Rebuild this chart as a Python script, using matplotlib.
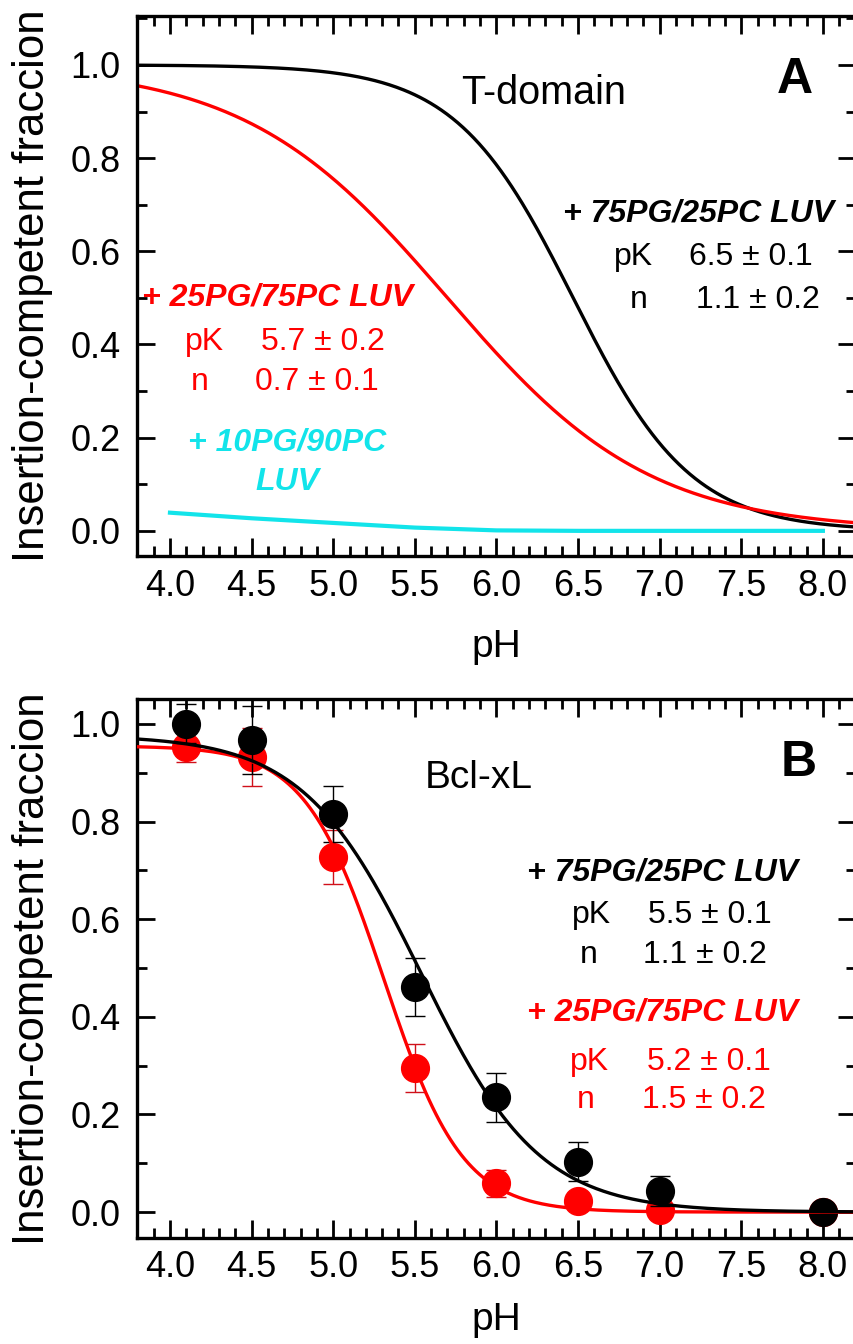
import numpy as np
import matplotlib
matplotlib.use("Agg")
import matplotlib.pyplot as plt
from matplotlib.ticker import MultipleLocator

plt.rcParams["font.family"] = ["Liberation Sans", "DejaVu Sans"]

# --- Panel A: T-domain, Hill fits as drawn (pK, n) ---
fit_a_pk = [6.47, 5.7]
fit_a_n = [1.2, 0.7]
fit_a_colors = ["black", "red"]

# 10PG/90PC curve
cyan_ph = [4.0, 4.5, 5.0, 5.5, 6.0, 6.5, 7.0, 7.5, 8.0]
cyan_y = [0.039, 0.027, 0.017, 0.007, 0.001, 0.0, 0.0, 0.0, 0.0]

# --- Panel B: Bcl-xL data points ---
ph_b75 = [4.1, 4.5, 5.0, 5.5, 6.0, 6.5, 7.0, 8.0]
y_b75 = [1.00, 0.967, 0.816, 0.461, 0.235, 0.103, 0.043, 0.0]
e_b75 = [0.04, 0.07, 0.057, 0.06, 0.05, 0.04, 0.03, 0.0]

ph_b25 = [4.1, 4.5, 5.0, 5.5, 6.0, 6.5, 7.0, 8.0]
y_b25 = [0.953, 0.932, 0.727, 0.295, 0.059, 0.023, 0.004, 0.0]
e_b25 = [0.032, 0.06, 0.055, 0.05, 0.028, 0.01, 0.005, 0.0]

# fitted curves as drawn (top plateau, pK, n)
fit_b_top = [0.977, 0.955]
fit_b_pk = [5.54, 5.31]
fit_b_n = [1.2, 1.8]

RED = "#ff0000"
CYAN = "#12e4ea"


def hill(ph, pk, n, top=1.0):
    return top / (1.0 + 10 ** (n * (ph - pk)))


def style_axes(ax, ylim):
    ax.set_xlim(3.8, 8.2)
    ax.set_ylim(*ylim)
    ax.xaxis.set_minor_locator(MultipleLocator(0.1))
    ax.yaxis.set_minor_locator(MultipleLocator(0.1))
    xt = np.arange(4.0, 8.01, 0.5)
    yt = np.arange(0.0, 1.01, 0.2)
    ax.set_xticks(xt)
    ax.set_xticklabels([f"{v:.1f}" for v in xt])
    ax.set_yticks(yt)
    ax.set_yticklabels([f"{v:.1f}" for v in yt])
    ax.tick_params(which="both", direction="in", top=True, right=True,
                   width=2.0, labelsize=26)
    ax.tick_params(which="major", length=13)
    ax.tick_params(which="minor", length=7)
    ax.tick_params(axis="x", pad=9)
    ax.tick_params(axis="y", pad=12)
    for s in ax.spines.values():
        s.set_linewidth(2.4)
    ax.set_xlabel("pH", fontsize=28)
    ax.set_ylabel("Insertion-competent fraccion", fontsize=31.5)


fig = plt.figure(figsize=(8.54, 13.44), dpi=100)
ax1 = fig.add_axes([0.1608, 0.5863, 0.8410, 0.4018])
ax2 = fig.add_axes([0.1608, 0.0789, 0.8410, 0.4010])

# ---- Panel A ----
ph = np.linspace(3.8, 8.2, 400)
for pk, n, c in zip(fit_a_pk, fit_a_n, fit_a_colors):
    ax1.plot(ph, hill(ph, pk, n), color=c, lw=2.4)
ax1.plot(cyan_ph, cyan_y, color=CYAN, lw=3.0)
style_axes(ax1, (-0.054, 1.105))
ax1.xaxis.set_label_coords(0.5, -0.135)
ax1.yaxis.set_label_coords(-0.118, 0.5)

bi = dict(fontweight="bold", fontstyle="italic", fontsize=23)
ax1.text(6.29, 0.94, "T-domain", fontsize=28.5, ha="center", va="center")
ax1.text(7.83, 0.968, "A", fontsize=36, fontweight="bold", ha="center", va="center")
ax1.text(8.07, 0.682, "+ 75PG/25PC LUV", ha="right", va="center", color="black", **bi)
ax1.text(6.72, 0.588, "pK", fontsize=23, ha="left", va="center")
ax1.text(7.18, 0.588, "6.5 \u00b1 0.1", fontsize=23, ha="left", va="center")
ax1.text(6.82, 0.496, "n", fontsize=23, ha="left", va="center")
ax1.text(7.22, 0.496, "1.1 \u00b1 0.2", fontsize=23, ha="left", va="center")

ax1.text(3.83, 0.50, "+ 25PG/75PC LUV", ha="left", va="center", color=RED, **bi)
ax1.text(4.09, 0.406, "pK", fontsize=23, ha="left", va="center", color=RED)
ax1.text(4.56, 0.406, "5.7 \u00b1 0.2", fontsize=23, ha="left", va="center", color=RED)
ax1.text(4.13, 0.32, "n", fontsize=23, ha="left", va="center", color=RED)
ax1.text(4.52, 0.32, "0.7 \u00b1 0.1", fontsize=23, ha="left", va="center", color=RED)

ax1.text(4.72, 0.189, "+ 10PG/90PC", ha="center", va="center", color=CYAN, **bi)
ax1.text(4.72, 0.105, "LUV", ha="center", va="center", color=CYAN, **bi)

# ---- Panel B ----
ax2.errorbar(ph_b25, y_b25, yerr=e_b25, fmt="o", color=RED, ms=20,
             ecolor="#d0101a", elinewidth=1.0, capsize=7, capthick=1.0, zorder=3)
ax2.errorbar(ph_b75, y_b75, yerr=e_b75, fmt="o", color="black", ms=20,
             ecolor="black", elinewidth=1.0, capsize=7, capthick=1.0, zorder=4)
ax2.plot(ph, hill(ph, fit_b_pk[1], fit_b_n[1], fit_b_top[1]), color=RED, lw=2.4, zorder=5)
ax2.plot(ph, hill(ph, fit_b_pk[0], fit_b_n[0], fit_b_top[0]), color="black", lw=2.4, zorder=5)
style_axes(ax2, (-0.053, 1.051))
ax2.xaxis.set_label_coords(0.5, -0.118)
ax2.yaxis.set_label_coords(-0.118, 0.5)

ax2.text(5.56, 0.889, "Bcl-xL", fontsize=28, ha="left", va="center")
ax2.text(7.85, 0.92, "B", fontsize=36, fontweight="bold", ha="center", va="center")
ax2.text(6.19, 0.695, "+ 75PG/25PC LUV", ha="left", va="center", color="black", **bi)
ax2.text(6.46, 0.609, "pK", fontsize=23, ha="left", va="center")
ax2.text(6.93, 0.609, "5.5 \u00b1 0.1", fontsize=23, ha="left", va="center")
ax2.text(6.51, 0.527, "n", fontsize=23, ha="left", va="center")
ax2.text(6.90, 0.527, "1.1 \u00b1 0.2", fontsize=23, ha="left", va="center")
ax2.text(6.19, 0.408, "+ 25PG/75PC LUV", ha="left", va="center", color=RED, **bi)
ax2.text(6.45, 0.307, "pK", fontsize=23, ha="left", va="center", color=RED)
ax2.text(6.92, 0.307, "5.2 \u00b1 0.1", fontsize=23, ha="left", va="center", color=RED)
ax2.text(6.49, 0.23, "n", fontsize=23, ha="left", va="center", color=RED)
ax2.text(6.89, 0.23, "1.5 \u00b1 0.2", fontsize=23, ha="left", va="center", color=RED)

fig.savefig("out.png", dpi=100)
